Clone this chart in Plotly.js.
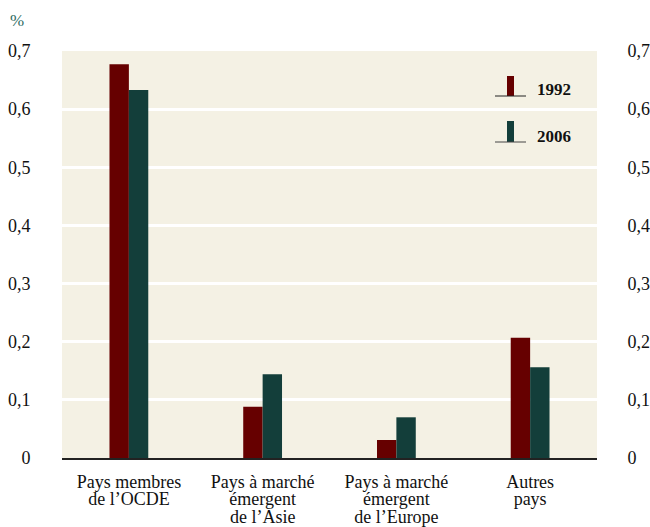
<!DOCTYPE html>
<html><head><meta charset="utf-8">
<script src="https://cdn.plot.ly/plotly-3.0.1.min.js"></script>
<style>html,body{margin:0;padding:0;background:#fff}</style>
</head><body>
<div id="chart" style="width:650px;height:527px"></div>
<script>
const categories = ["Pays membres<br>de l’OCDE","Pays à marché<br>émergent<br>de l’Asie","Pays à marché<br>émergent<br>de l’Europe","Autres<br>pays"];
const values1992 = [0.677, 0.088, 0.031, 0.207];
const values2006 = [0.633, 0.144, 0.070, 0.156];
const tickVals = [0,0.1,0.2,0.3,0.4,0.5,0.6,0.7];
const tickText = ["0","0,1","0,2","0,3","0,4","0,5","0,6","0,7"];
const seriesNames = ["1992","2006"];
const colors = ["#660000","#133e3a"];
const font = "Liberation Serif";

const traces = [
  {type:"bar", x:categories, y:values1992, name:seriesNames[0], marker:{color:colors[0]}, hoverinfo:"none"},
  {type:"bar", x:categories, y:values2006, name:seriesNames[1], marker:{color:colors[1]}, hoverinfo:"none"},
  {type:"scatter", x:categories, y:[null,null,null,null], yaxis:"y2", hoverinfo:"none", showlegend:false}
];

const L = 62, W = 535, B = 458, H = 407;
const px = v => (v - L) / W, py = v => (B - v) / H;

const layout = {
  width:650, height:527,
  margin:{l:62, r:53, t:51, b:69},
  paper_bgcolor:"#ffffff",
  plot_bgcolor:"#f4f1e4",
  barmode:"group", bargap:0.71, bargroupgap:0,
  showlegend:false,
  font:{family:font, size:18, color:"#111"},
  xaxis:{showgrid:false, showline:true, linecolor:"#222", linewidth:2, ticks:"outside", ticklen:6, tickcolor:"rgba(0,0,0,0)",
         tickfont:{size:18, family:font, color:"#111"}, fixedrange:true},
  yaxis:{range:[0,0.7], tickvals:tickVals, ticktext:tickText, showgrid:true, gridcolor:"#ffffff", gridwidth:3,
         zeroline:false, ticks:"outside", ticklen:27, tickcolor:"rgba(0,0,0,0)", tickfont:{size:18, family:font, color:"#111"}, fixedrange:true},
  yaxis2:{range:[0,0.7], overlaying:"y", side:"right", tickvals:tickVals, ticktext:tickText, showgrid:false, zeroline:false,
          ticks:"outside", ticklen:26, tickcolor:"rgba(0,0,0,0)", tickfont:{size:18, family:font, color:"#111"}, fixedrange:true},
  shapes:[
    {type:"rect", xref:"paper", yref:"paper", x0:px(507), x1:px(514), y0:py(96), y1:py(76), fillcolor:colors[0], line:{width:0}},
    {type:"line", xref:"paper", yref:"paper", x0:px(495), x1:px(526), y0:py(96), y1:py(96), line:{color:"#222", width:1}},
    {type:"rect", xref:"paper", yref:"paper", x0:px(507), x1:px(514), y0:py(142), y1:py(121), fillcolor:colors[1], line:{width:0}},
    {type:"line", xref:"paper", yref:"paper", x0:px(495), x1:px(526), y0:py(142), y1:py(142), line:{color:"#444", width:1}}
  ],
  annotations:[
    {xref:"paper", yref:"paper", x:px(535), y:py(90), xanchor:"left", yanchor:"middle", text:"<b>1992</b>", showarrow:false, font:{size:17, family:font, color:"#111"}},
    {xref:"paper", yref:"paper", x:px(535), y:py(136), xanchor:"left", yanchor:"middle", text:"<b>2006</b>", showarrow:false, font:{size:17, family:font, color:"#111"}},
    {xref:"paper", yref:"paper", x:px(8), y:py(20), xanchor:"left", yanchor:"middle", text:"%", showarrow:false, font:{size:17, family:font, color:"#2e6b5f"}}
  ]
};
Plotly.newPlot("chart", traces, layout, {staticPlot:true, displayModeBar:false}).then(function(gd){
  // tighten multi-line category label spacing to match the reference
  gd.querySelectorAll("g.xtick text").forEach(function(t){
    t.querySelectorAll("tspan.line").forEach(function(ts, i){
      ts.setAttribute("dy", (i * 0.97) + "em");
    });
  });
});
</script>
</body></html>
